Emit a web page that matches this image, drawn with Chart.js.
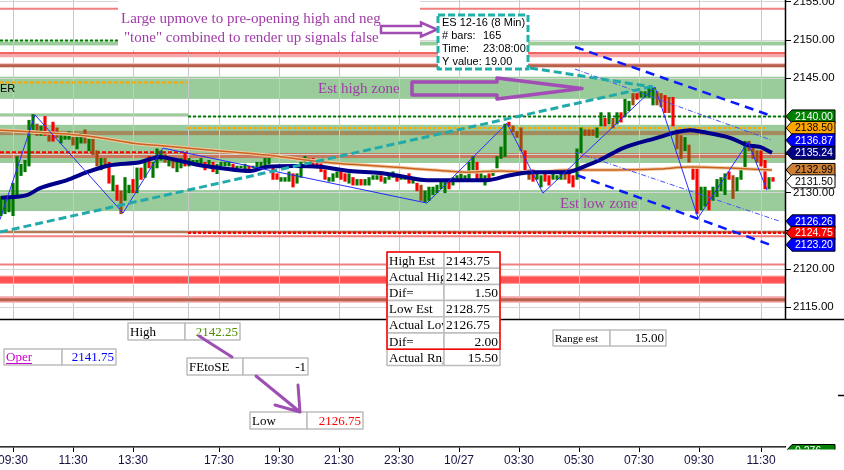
<!DOCTYPE html>
<html>
<head>
<meta charset="utf-8">
<title>ES 12-16 (8 Min)</title>
<script src="https://cdn.jsdelivr.net/npm/chart.js"></script>
<style>
  html, body { margin: 0; padding: 0; background: #fff; }
  #wrap { width: 844px; height: 470px; position: relative; }
</style>
</head>
<body>
<div id="wrap"><canvas id="esChart"></canvas></div>
<script>
// 8 minute bars, candle bodies only (open / close)
const opens = [
  2127.0, 2127.25, 2127.5, 2127.0, 2129.75, 2132.25, 2132.75, 2133.5, 2138.25, 2139.0,
  2137.5, 2140.0, 2138.0, 2139.25, 2138.5, 2136.5, 2137.0, 2137.0, 2137.25, 2135.75,
  2136.5, 2138.25, 2135.5, 2137.0, 2135.5, 2133.0, 2134.5, 2134.0, 2130.25, 2131.0,
  2130.25, 2129.0, 2130.0, 2131.75, 2130.0, 2133.25, 2132.0, 2134.75, 2132.0, 2133.25,
  2134.25, 2135.0, 2133.5, 2134.5, 2132.75, 2133.25, 2135.25, 2133.5, 2133.75, 2133.75,
  2133.75, 2134.0, 2133.5, 2134.0, 2132.5, 2133.5, 2133.5, 2133.5, 2133.75, 2133.25,
  2133.25, 2133.0, 2133.5, 2133.25, 2133.25, 2133.25, 2133.5, 2133.75, 2133.25, 2132.5,
  2131.5, 2131.5, 2131.5, 2132.5, 2131.25, 2132.0, 2134.0, 2134.5, 2134.5, 2134.0,
  2134.0, 2133.0, 2131.5, 2131.5, 2132.0, 2132.75, 2132.5, 2131.25, 2132.0, 2131.0,
  2131.75, 2131.0, 2131.0, 2131.75, 2131.75, 2132.25, 2131.25, 2131.75, 2132.0, 2132.25,
  2131.75, 2131.75, 2132.5, 2131.25, 2131.25, 2131.0, 2128.75, 2129.0, 2129.75, 2130.0,
  2130.5, 2130.0, 2131.5, 2131.0, 2131.75, 2131.75, 2131.5, 2131.75, 2133.0, 2134.0,
  2131.75, 2131.0, 2132.5, 2132.25, 2133.25, 2134.5, 2134.75, 2139.25, 2138.75, 2138.0,
  2138.5, 2135.5, 2133.0, 2133.0, 2131.75, 2130.75, 2132.5, 2132.25, 2131.75, 2131.75,
  2131.75, 2132.5, 2132.75, 2132.25, 2131.75, 2135.25, 2138.25, 2138.25, 2138.25, 2137.25,
  2138.75, 2139.75, 2139.0, 2139.75, 2139.0, 2140.5, 2140.0, 2140.75, 2143.0, 2143.0,
  2142.5, 2142.5, 2142.5, 2141.5, 2143.25, 2143.0, 2142.75, 2142.5, 2142.5, 2138.25,
  2137.5, 2135.5, 2136.25, 2133.5, 2133.5, 2127.75, 2128.25, 2130.25, 2129.0, 2129.5,
  2130.25, 2129.75, 2132.75, 2132.25, 2130.25, 2131.75, 2133.25, 2136.75, 2136.25, 2135.5,
  2135.5, 2134.25, 2130.5, 2132.0
];
const closes = [
  2129.5, 2129.5, 2129.25, 2131.25, 2134.75, 2133.75, 2134.25, 2139.5, 2140.25, 2137.5,
  2138.75, 2137.5, 2136.75, 2136.75, 2137.25, 2137.75, 2137.5, 2138.0, 2136.25, 2137.25,
  2137.75, 2136.5, 2137.0, 2135.0, 2133.5, 2134.5, 2133.5, 2131.25, 2132.25, 2129.0,
  2127.25, 2132.0, 2131.0, 2130.0, 2133.25, 2131.75, 2134.0, 2133.25, 2134.0, 2135.75,
  2135.5, 2134.0, 2134.5, 2133.25, 2134.25, 2134.5, 2133.5, 2134.5, 2134.25, 2134.25,
  2134.5, 2133.0, 2134.25, 2132.75, 2133.75, 2134.0, 2134.0, 2134.0, 2133.25, 2133.5,
  2133.5, 2133.75, 2132.75, 2133.5, 2134.0, 2134.0, 2134.5, 2134.5, 2131.75, 2131.75,
  2132.0, 2132.0, 2132.75, 2130.75, 2132.5, 2134.0, 2134.75, 2133.75, 2133.5, 2133.25,
  2132.75, 2131.75, 2132.0, 2132.5, 2132.75, 2131.75, 2131.5, 2132.5, 2131.0, 2131.75,
  2131.0, 2131.75, 2132.0, 2132.25, 2132.25, 2131.5, 2132.0, 2132.25, 2132.75, 2131.5,
  2132.25, 2132.25, 2131.25, 2132.0, 2130.25, 2129.0, 2130.25, 2130.75, 2130.75, 2131.0,
  2131.5, 2131.75, 2130.5, 2132.0, 2132.25, 2132.5, 2132.25, 2134.0, 2134.75, 2131.75,
  2132.5, 2132.25, 2131.75, 2133.0, 2134.75, 2136.0, 2139.0, 2138.75, 2138.0, 2137.25,
  2135.5, 2133.0, 2131.75, 2131.5, 2132.5, 2132.25, 2131.5, 2131.0, 2132.5, 2132.25,
  2132.5, 2131.75, 2131.25, 2130.75, 2135.75, 2138.5, 2137.5, 2137.5, 2137.5, 2138.5,
  2140.5, 2138.75, 2140.5, 2138.5, 2140.5, 2139.25, 2142.25, 2142.0, 2141.5, 2142.25,
  2143.25, 2143.25, 2143.75, 2143.75, 2141.5, 2141.25, 2140.5, 2140.5, 2138.75, 2135.75,
  2134.5, 2137.25, 2134.0, 2131.75, 2127.25, 2130.75, 2130.75, 2127.75, 2130.75, 2131.75,
  2132.0, 2132.5, 2131.75, 2129.25, 2132.0, 2133.0, 2136.75, 2135.5, 2134.5, 2134.0,
  2133.5, 2130.5, 2132.0, 2131.5
];
// down bars the platform paints as "weak" (brown)
const weakDownBars = [9, 12, 14, 18, 21, 23, 24, 26, 30, 41, 43, 77, 105, 128, 129, 130, 132, 141,
  146, 147, 148, 153, 158, 164, 165, 167, 169, 170, 172, 183, 187, 188, 189];

// time axis (bar index -> label)
const tickIndex = [3, 18, 33, 54.5, 69.5, 84.5, 99.5, 114.5, 129.5, 144.5, 159.5, 174.5, 190];
const tickText = ['09:30', '11:30', '13:30', '17:30', '19:30', '21:30', '23:30', '10/27', '03:30', '05:30', '07:30', '09:30', '11:30'];
const sessionBreak = 46.75;
const priceTicks = [2115, 2120, 2125, 2130, 2135, 2140, 2145, 2150, 2155];

// moving averages
const maIdx = [0, 6.5, 9.75, 16.5, 21.5, 27.25, 34.75, 39.75, 43, 49.75, 54.75, 62.25, 66.5, 73, 79.75, 87.25, 94.75,
  99.75, 106.5, 113, 121.5, 127.25, 133, 141.5, 146.5, 149.75, 155.5, 164, 169, 172.25, 175.5, 182.25, 186.5, 189.75, 192.75];
const maVal = [2129.35, 2129.7, 2130.6, 2131.65, 2132.7, 2133.6, 2134.0, 2134.7, 2134.4, 2133.6, 2133.25, 2132.85, 2133.4,
  2133.5, 2133.4, 2132.85, 2132.6, 2132.2, 2131.65, 2131.65, 2131.65, 2132.3, 2132.7, 2132.7, 2133.6, 2134.3, 2135.85,
  2137.2, 2137.95, 2138.2, 2137.95, 2137.2, 2136.25, 2136.0, 2135.24];
const emaIdx = [-0.25, 8, 16.5, 24.75, 33, 41.5, 49.75, 58, 66.5, 74.75, 83, 91.5, 99.75, 108, 116.5, 124.75, 133, 141.5, 149.75, 164, 172.25, 192.75];
const emaVal = [2138.2, 2137.95, 2137.7, 2137.2, 2136.5, 2136.1, 2135.7, 2135.33, 2134.94, 2134.4, 2133.9, 2133.6, 2133.3,
  2132.97, 2132.7, 2132.85, 2132.7, 2132.97, 2132.97, 2133.1, 2133.37, 2132.99];

// swing zigzag
const zzIdx = [-0.25, 8.5, 30.5, 40.5, 106.5, 126.5, 135.5, 163.5, 174.25, 186.75, 191.5];
const zzVal = [2126.5, 2140.2, 2127.35, 2135.85, 2128.65, 2139.1, 2129.95, 2143.85, 2126.7, 2136.65, 2130.35];

// trend lines and channel
const trendIdx = [-0.25, 163];
const trendVal = [2124.85, 2143.95];
const pointerIdx = [132.25, 163];
const pointerVal = [2146.35, 2143.85];
const chanUpperIdx = [143.5, 192.75];
const chanUpperVal = [2149.1, 2140.05];
const chanUpperInIdx = [143.5, 192.75];
const chanUpperInVal = [2146.2, 2136.87];
const chanLowerInIdx = [143.5, 194.75];
const chanLowerInVal = [2135.33, 2126.26];
const chanLowerIdx = [144, 192.25];
const chanLowerVal = [2132.3, 2123.2];

// horizontal levels
const greenZones = [[2142.3, 2145.2], [2133.9, 2138.9], [2127.6, 2130.35], [2149.3, 2149.8]];
const innerBands = [[2137.55, 2138.1], [2134.55, 2135.2]];
const pinkBands = [[2147.75, 2148.35], [2146.45, 2146.95], [2115.6, 2116.45]];
const lightRedLines = [2154.1, 2124.3, 2120.6];
const brownLines = [2146.65, 2116.0];
const brownBand = [2124.7, 2125.1];
const redBand = [2118.2, 2119.0];
const redLine = 2148.3;
const leftGreenDotted = 2149.95, leftOrangeDashed = 2144.45, leftRedDotted = 2135.3;
const leftGreenBand = [2139.95, 2140.4];
const rightGreenDotted = 2140.0, rightOrangeDotted = 2138.5, rightRedDotted = 2124.75;

// last-value tags on the price axis
const tagValues = [2140.00, 2138.50, 2136.87, 2135.24, 2132.99, 2131.50, 2126.26, 2124.75, 2123.20];

// text panels
const tableLabels = ['High Est', 'Actual High', 'Dif=', 'Low Est', 'Actual Low', 'Dif=', 'Actual Rng'];
const tableValues = ['2143.75', '2142.25', '1.50', '2128.75', '2126.75', '2.00', '15.50'];
const openValue = '2141.75';
const highValue = '2142.25';
const lowValue = '2126.75';
const feToSe = '-1';
const rangeEst = '15.00';
const infoTitle = 'ES 12-16 (8 Min)';
const infoRows = [['# bars:', '165'], ['Time:', '23:08:00']];
const infoYValue = 'Y value: 19.00';

const SANS = '"Liberation Sans", Arial, sans-serif';
const SERIF = '"Liberation Serif", "Times New Roman", serif';
const PURPLE = '#a03ca8';

const pts = (xs, ys) => xs.map((x, k) => ({ x: x, y: ys[k] }));

function hBand(chart, lo, hi, color, i0, i1) {
    const { ctx, chartArea: a, scales } = chart;
    const x0 = i0 === undefined ? a.left : scales.x.getPixelForValue(i0);
    const x1 = i1 === undefined ? a.right : scales.x.getPixelForValue(i1);
    const y0 = scales.y.getPixelForValue(hi);
    const y1 = scales.y.getPixelForValue(lo);
    ctx.fillStyle = color;
    ctx.fillRect(x0, y0, x1 - x0, y1 - y0);
}

function hLine(chart, v, color, width, dash, i0, i1) {
    const { ctx, chartArea: a, scales } = chart;
    const x0 = i0 === undefined ? a.left : scales.x.getPixelForValue(i0);
    const x1 = i1 === undefined ? a.right : scales.x.getPixelForValue(i1);
    const y = scales.y.getPixelForValue(v);
    ctx.save();
    ctx.strokeStyle = color;
    ctx.lineWidth = width;
    ctx.setLineDash(dash || []);
    ctx.beginPath();
    ctx.moveTo(x0, y);
    ctx.lineTo(x1, y);
    ctx.stroke();
    ctx.restore();
}

function cell(ctx, x, y, w, h, text, o) {
    ctx.save();
    ctx.fillStyle = '#fff';
    ctx.fillRect(x, y, w, h);
    ctx.strokeStyle = '#bdbdbd';
    ctx.lineWidth = 1.5;
    ctx.strokeRect(x, y, w, h);
    ctx.beginPath();
    ctx.rect(x + 1, y, w - 2, h);
    ctx.clip();
    ctx.font = o.font;
    ctx.fillStyle = o.color || '#000';
    ctx.textBaseline = 'middle';
    ctx.textAlign = o.align || 'left';
    const tx = o.align === 'right' ? x + w - 2 : x + 2;
    ctx.fillText(text, tx, y + h / 2 + 1);
    if (o.underline) {
        const m = ctx.measureText(text).width;
        ctx.fillRect(tx, y + h / 2 + 6, m, 1);
    }
    ctx.restore();
}

function hollowArrow(ctx, x0, xh, x1, yc, sh, hh) {
    ctx.beginPath();
    ctx.moveTo(x0, yc - sh);
    ctx.lineTo(xh, yc - sh);
    ctx.lineTo(xh, yc - hh);
    ctx.lineTo(x1, yc);
    ctx.lineTo(xh, yc + hh);
    ctx.lineTo(xh, yc + sh);
    ctx.lineTo(x0, yc + sh);
    ctx.closePath();
}

function tag(ctx, y, text, bg, fg) {
    ctx.beginPath();
    ctx.moveTo(786, y);
    ctx.lineTo(792, y - 6.5);
    ctx.lineTo(835, y - 6.5);
    ctx.lineTo(835, y + 6.5);
    ctx.lineTo(792, y + 6.5);
    ctx.closePath();
    ctx.fillStyle = bg;
    ctx.fill();
    ctx.strokeStyle = '#000';
    ctx.lineWidth = 1;
    ctx.stroke();
    ctx.fillStyle = fg;
    ctx.font = '10.5px ' + SANS;
    ctx.textAlign = 'left';
    ctx.textBaseline = 'middle';
    ctx.fillText(text, 795, y + 0.5);
}

const overlayPlugin = {
    id: 'overlay',
    beforeDraw(chart) {
        // zones sit under the grid
        const ctx = chart.ctx;
        ctx.save();
        greenZones.forEach(z => hBand(chart, z[0], z[1], '#9acb9a'));
        hBand(chart, leftGreenBand[0], leftGreenBand[1], '#9acb9a', undefined, sessionBreak);
        hBand(chart, innerBands[0][0], innerBands[0][1], '#a38b5e');
        hBand(chart, innerBands[1][0], innerBands[1][1], '#c67a5e');
        pinkBands.forEach(b => hBand(chart, b[0], b[1], '#f6a8a8'));
        hBand(chart, redBand[0] - 0.15, redBand[1] + 0.15, '#ff9a9a');
        hBand(chart, redBand[0], redBand[1], '#ff5252');
        hBand(chart, brownBand[0], brownBand[1], '#b47a56');
        ctx.restore();
    },
    beforeDatasetsDraw(chart) {
        const { ctx, chartArea: a } = chart;
        // lower panel is empty
        ctx.save();
        ctx.fillStyle = '#fff';
        ctx.fillRect(a.left, 320, a.right - a.left, a.bottom - 320.8);
        ctx.restore();

        lightRedLines.forEach(v => hLine(chart, v, '#f08080', 2));
        brownLines.forEach(v => hLine(chart, v, '#b8624e', 3));
        hLine(chart, redLine, '#f26464', 2);

        hLine(chart, leftGreenDotted, '#008000', 2, [3, 2], undefined, sessionBreak);
        hLine(chart, leftOrangeDashed, '#ffa500', 2, [4, 2], undefined, sessionBreak);
        hLine(chart, leftRedDotted, '#ff0000', 2, [4, 2], undefined, sessionBreak);
        hLine(chart, rightGreenDotted, '#007a00', 2, [3, 2], sessionBreak);
        hLine(chart, rightOrangeDotted, '#ffa500', 2, [3, 2], sessionBreak, 191);
        hLine(chart, rightRedDotted, '#ff0000', 2.5, [3, 2], sessionBreak);
    },
    afterDatasetsDraw(chart) {
        const { ctx, scales } = chart;
        ctx.save();

        // top annotation
        ctx.fillStyle = '#fff';
        ctx.fillRect(118, 0, 302, 50);
        ctx.font = '15px ' + SERIF;
        ctx.fillStyle = PURPLE;
        ctx.textAlign = 'left';
        ctx.textBaseline = 'alphabetic';
        ctx.fillText('Large upmove to pre-opening high and neg', 121, 23);
        ctx.fillText('"tone" combined to render up signals false', 124, 42);

        ctx.strokeStyle = '#a24db5';
        ctx.lineWidth = 2.5;
        hollowArrow(ctx, 381, 421, 437, 29.5, 3.5, 7);
        ctx.fillStyle = '#fff';
        ctx.fill();
        ctx.stroke();

        ctx.lineWidth = 3.5;
        ctx.lineJoin = 'round';
        hollowArrow(ctx, 412, 497, 582, 88.5, 6.5, 10.5);
        ctx.stroke();

        ctx.font = '15px ' + SERIF;
        ctx.fillStyle = PURPLE;
        ctx.fillText('Est high zone', 318, 93);
        ctx.fillText('Est low zone', 560, 208);

        ctx.font = '11px ' + SANS;
        ctx.fillStyle = '#000';
        ctx.fillText('ER', 0, 92);

        // info box
        ctx.fillStyle = '#fff';
        ctx.fillRect(438, 15, 90, 54);
        ctx.strokeStyle = '#20b2aa';
        ctx.lineWidth = 3;
        ctx.setLineDash([7, 3]);
        ctx.strokeRect(438, 15, 90, 54);
        ctx.setLineDash([]);
        ctx.fillStyle = '#000';
        ctx.font = '11px ' + SANS;
        ctx.textBaseline = 'middle';
        ctx.fillText(infoTitle, 442, 23);
        infoRows.forEach((r, k) => {
            ctx.fillText(r[0], 442, 36 + k * 13);
            ctx.fillText(r[1], 483, 36 + k * 13);
        });
        ctx.fillText(infoYValue, 442, 62);

        // panel borders and price axis line
        ctx.strokeStyle = '#000';
        ctx.lineWidth = 1.5;
        ctx.beginPath();
        ctx.moveTo(0, 319.5);
        ctx.lineTo(844, 319.5);
        ctx.moveTo(785.5, 0);
        ctx.lineTo(785.5, 319.5);
        ctx.moveTo(838, 395.5);
        ctx.lineTo(844, 395.5);
        ctx.stroke();

        // price tags
        const tagStyles = [['#008000', '#fff'], ['#ffa500', '#000'], ['#0000ff', '#fff'], ['#000080', '#fff'],
            ['#cd7f32', '#000'], ['#fff', '#000'], ['#0000ff', '#fff'], ['#ff0000', '#fff'], ['#0000ff', '#fff']];
        tagValues.forEach((v, k) => {
            tag(ctx, scales.y.getPixelForValue(v), v.toFixed(2), tagStyles[k][0], tagStyles[k][1]);
        });
        ctx.save();
        ctx.beginPath();
        ctx.rect(780, 430, 64, 19.5);
        ctx.clip();
        tag(ctx, 451, '0.276', '#008000', '#fff');
        ctx.restore();

        // lower panel text boxes
        const serif13 = '13px ' + SERIF;
        cell(ctx, 4, 349, 58, 16, 'Oper', { font: serif13, color: '#d000d0', underline: true });
        cell(ctx, 62, 349, 54, 16, openValue, { font: serif13, color: '#0000ff', align: 'right' });
        cell(ctx, 128, 323, 57, 17, 'High', { font: serif13 });
        cell(ctx, 185, 323, 55, 17, highValue, { font: serif13, color: '#4f8f00', align: 'right' });
        cell(ctx, 187, 358, 56, 17, 'FEtoSE', { font: serif13 });
        cell(ctx, 243, 358, 65, 17, feToSe, { font: serif13, align: 'right' });
        cell(ctx, 250, 412, 57, 17, 'Low', { font: serif13 });
        cell(ctx, 307, 412, 56, 17, lowValue, { font: serif13, color: '#ff0000', align: 'right' });
        cell(ctx, 553, 330, 57, 16, 'Range est', { font: '11px ' + SERIF });
        cell(ctx, 610, 330, 56, 16, rangeEst, { font: serif13, align: 'right' });

        const rightAligned = [2, 5, 6];
        const rowH = 16.2;
        tableLabels.forEach((t, r) => {
            const y = 252 + r * rowH;
            const al = rightAligned.indexOf(r) >= 0 ? 'right' : 'left';
            cell(ctx, 387, y, 57, rowH, t, { font: '13px ' + SERIF });
            cell(ctx, 444, y, 56, rowH, tableValues[r], { font: '13.5px ' + SERIF, align: al });
        });
        ctx.strokeStyle = '#ff0000';
        ctx.lineWidth = 1.5;
        ctx.strokeRect(387, 252, 113, 6 * rowH);

        // pointer arrows
        ctx.strokeStyle = '#9d4fb3';
        ctx.lineWidth = 3;
        ctx.lineCap = 'round';
        ctx.beginPath();
        ctx.moveTo(199, 336);
        ctx.lineTo(232, 357);
        ctx.moveTo(256, 376);
        ctx.lineTo(300, 412);
        ctx.moveTo(300, 412);
        ctx.lineTo(275, 405);
        ctx.moveTo(300, 412);
        ctx.lineTo(298, 385);
        ctx.stroke();

        ctx.restore();
    }
};

Chart.defaults.font.family = SANS;

const weakSet = new Set(weakDownBars);
const barColors = opens.map((o, i) => closes[i] >= o ? '#007800' : (weakSet.has(i) ? '#a3480f' : '#ff0000'));

const lineDefaults = { type: 'line', pointRadius: 0, fill: false };

new Chart(document.getElementById('esChart'), {
    type: 'line',
    data: {
        datasets: [
            Object.assign({}, lineDefaults, { data: pts(trendIdx, trendVal), borderColor: '#22aaaa', borderWidth: 3, borderDash: [8, 4] }),
            Object.assign({}, lineDefaults, { data: pts(pointerIdx, pointerVal), borderColor: '#22aaaa', borderWidth: 3, borderDash: [8, 4] }),
            Object.assign({}, lineDefaults, { data: pts(chanUpperIdx, chanUpperVal), borderColor: '#0a1aff', borderWidth: 2.5, borderDash: [9, 6] }),
            Object.assign({}, lineDefaults, { data: pts(chanLowerIdx, chanLowerVal), borderColor: '#0a1aff', borderWidth: 2.5, borderDash: [9, 6] }),
            Object.assign({}, lineDefaults, { data: pts(chanUpperInIdx, chanUpperInVal), borderColor: '#4050ff', borderWidth: 1, borderDash: [5, 2, 1, 2] }),
            Object.assign({}, lineDefaults, { data: pts(chanLowerInIdx, chanLowerInVal), borderColor: '#4050ff', borderWidth: 1, borderDash: [5, 2, 1, 2] }),
            Object.assign({}, lineDefaults, { data: pts(zzIdx, zzVal), borderColor: '#2a2aff', borderWidth: 1 }),
            Object.assign({}, lineDefaults, { data: pts(maIdx, maVal), borderColor: '#00008b', borderWidth: 4, tension: 0.4, cubicInterpolationMode: 'monotone' }),
            Object.assign({}, lineDefaults, { data: pts(emaIdx, emaVal), borderColor: '#c8641e', borderWidth: 1.5, tension: 0.4, cubicInterpolationMode: 'monotone' }),
            Object.assign({}, lineDefaults, { data: pts(emaIdx, emaVal), borderColor: '#f2c8a4', borderWidth: 3.5, tension: 0.4, cubicInterpolationMode: 'monotone' }),
            {
                type: 'bar',
                data: opens.map((o, i) => ({ x: i, y: [o, closes[i]] })),
                backgroundColor: barColors,
                borderWidth: 0,
                barThickness: 2.5
            }
        ]
    },
    options: {
        responsive: true,
        maintainAspectRatio: false,
        animation: false,
        layout: { padding: 0 },
        plugins: {
            legend: { display: false },
            tooltip: { enabled: false }
        },
        scales: {
            x: {
                type: 'linear',
                min: -0.25,
                max: 196,
                offset: false,
                grid: {
                    offset: false,
                    color: '#c8c8c8',
                    lineWidth: 1,
                    tickLength: 5,
                    tickColor: c => (c.tick && c.tick.value === sessionBreak) ? 'rgba(0,0,0,0)' : '#000'
                },
                border: { color: '#000', width: 1.5 },
                ticks: {
                    autoSkip: false,
                    maxRotation: 0,
                    padding: 1,
                    color: '#1a1040',
                    font: { size: 12 },
                    callback: v => {
                        const k = tickIndex.indexOf(v);
                        return k >= 0 ? tickText[k] : '';
                    }
                },
                afterBuildTicks: s => {
                    s.ticks = tickIndex.concat([sessionBreak]).map(v => ({ value: v }));
                },
                afterFit: s => {
                    s.height = 23;
                    s.paddingLeft = 0;
                    s.paddingRight = 0;
                }
            },
            y: {
                type: 'linear',
                position: 'right',
                min: 2096.7,
                max: 2155.25,
                beginAtZero: false,
                grid: { color: '#d6d6d6', lineWidth: 1, tickLength: 6, tickColor: '#000' },
                border: { display: false },
                ticks: {
                    color: '#000',
                    padding: 2,
                    font: { size: 11.5 },
                    callback: v => Number(v).toFixed(2)
                },
                afterBuildTicks: s => {
                    s.ticks = priceTicks.map(v => ({ value: v }));
                },
                afterFit: s => {
                    s.width = 59;
                    s.paddingTop = 0;
                    s.paddingBottom = 0;
                }
            }
        }
    },
    plugins: [overlayPlugin]
});
</script>
</body>
</html>
